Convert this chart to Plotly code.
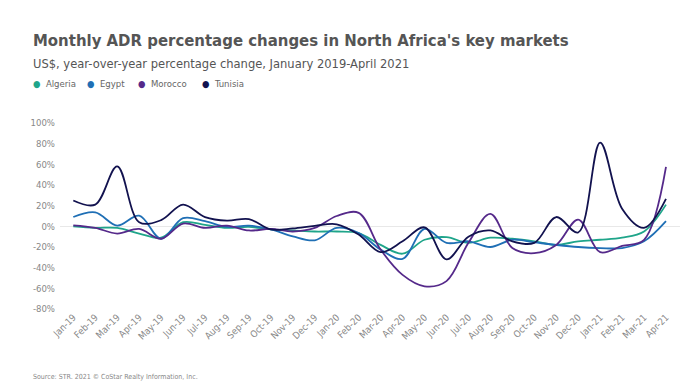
import plotly.graph_objects as go

months = ["Jan-19","Feb-19","Mar-19","Apr-19","May-19","Jun-19","Jul-19","Aug-19","Sep-19","Oct-19","Nov-19","Dec-19",
          "Jan-20","Feb-20","Mar-20","Apr-20","May-20","Jun-20","Jul-20","Aug-20","Sep-20","Oct-20","Nov-20","Dec-20",
          "Jan-21","Feb-21","Mar-21","Apr-21"]

algeria = [0, -1.5, -1.5, -7, -11, 4, 1.5, -1.5, -0.5, -3, -4, -5,
           -5, -6.5, -18, -26.5, -13, -10.5, -16, -11, -12, -14.5, -18, -14.5,
           -13, -11, -5, 21]
egypt = [9, 13.5, 0.7, 10.3, -12, 8, 5, -0.6, 0.7, -3, -9.7, -13.5,
         -1.5, -6.5, -22.5, -31.5, -2.5, -16, -14.5, -20, -13, -15.5, -18, -20,
         -21, -21, -14.5, 5]
morocco = [1, -1.5, -7, -2.5, -12, 2.7, -1.5, 0.7, -4, -2.5, -5, -1.5,
           10, 13, -22.5, -47, -58, -53, -16, 12, -21, -26, -18, 6.5,
           -25, -19, -13, 57.5]
tunisia = [25, 21, 58, 4, 6, 21, 9, 5.5, 7, -3, -2, 0.5,
           2, -8, -25, -14.5, -1, -32, -10, -4, -14.5, -16, 9, -6,
           81, 17, -1.5, 26.5]

series_names = ["Algeria", "Egypt", "Morocco", "Tunisia"]
series_values = [algeria, egypt, morocco, tunisia]
colors = ["#1fa58a", "#1f6fb5", "#55298a", "#12124f"]

y_ticks = [100, 80, 60, 40, 20, 0, -20, -40, -60, -80]
y_tick_labels = [f"{v}%" for v in y_ticks]

FONT = "DejaVu Sans Condensed, Liberation Sans Narrow, sans-serif"

# page body has an 8px default margin: lay out in screen coordinates minus OFF
OFF = 8
W, H = 700, 387
L, R, T, B = 60 - OFF, 20 + OFF, 123 - OFF, 78 + OFF
PW, PH = W - L - R, H - T - B

fig = go.Figure()
for name, vals, col in zip(series_names, series_values, colors):
    fig.add_trace(go.Scatter(
        x=list(range(len(months))), y=vals, mode="lines", name=name,
        line=dict(color=col, width=1.8, shape="spline", smoothing=1.0),
        showlegend=False))

fig.update_layout(
    width=W, height=H,
    paper_bgcolor="white", plot_bgcolor="white",
    margin=dict(l=L, r=R, t=T, b=B, autoexpand=False),
    font=dict(family=FONT, color="#777"),
    showlegend=False,
    xaxis=dict(
        tickmode="array", tickvals=list(range(len(months))), ticktext=months,
        range=[-0.606, 27.638], showgrid=False, zeroline=False, showline=False,
        ticks="", tickangle=-45, automargin=False,
        tickfont=dict(size=9.5, color="#888", family=FONT),
    ),
    yaxis=dict(
        range=[-80, 100], tickmode="array", tickvals=y_ticks, ticktext=y_tick_labels,
        showgrid=False, zeroline=True, zerolinecolor="#e8e8e8", zerolinewidth=1,
        showline=False, ticks="", ticklabelstandoff=4, automargin=False,
        tickfont=dict(size=9.5, color="#888", family=FONT),
    ),
)

def add_text(text, x_scr, y_scr, size, color):
    x_px, y_px = x_scr - OFF, y_scr - OFF
    fig.add_annotation(
        text=text, xref="paper", yref="paper",
        x=(x_px - L) / PW, y=(H - B - y_px) / PH,
        showarrow=False, xanchor="left", yanchor="middle",
        font=dict(size=size, color=color, family=FONT))

add_text("<b>Monthly ADR percentage changes in North Africa's key markets</b>", 31, 41, 16.6, "#555")
add_text("US$, year-over-year percentage change, January 2019-April 2021", 31, 63, 12.8, "#555")
legend_x = [31, 85, 136, 200]
for name, col, lx in zip(series_names, colors, legend_x):
    add_text(f"<span style='color:{col}'>●</span>  {name}", lx, 83, 9.5, "#666")
add_text("Source: STR. 2021 © CoStar Realty Information, Inc.", 31, 377, 7, "#888")

fig.write_html("out.html")
